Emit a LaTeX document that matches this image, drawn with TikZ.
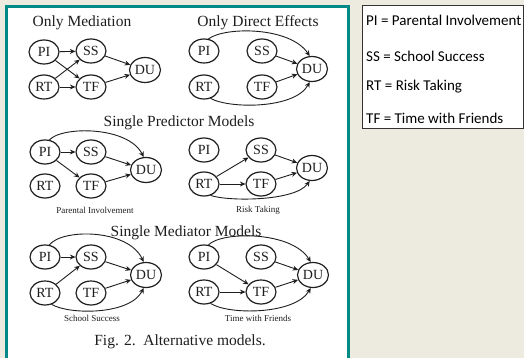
\documentclass[tikz,border=0pt]{standalone}
\usepackage{fontspec}
\setmainfont{Liberation Serif}
\newfontfamily\legfont{Carlito}
\usetikzlibrary{shapes.geometric,arrows.meta}
\definecolor{bg}{RGB}{237,234,224}
\definecolor{teal}{RGB}{0,138,134}
\definecolor{ink}{RGB}{30,30,30}
\tikzset{
  v/.style={ellipse, draw=ink, line width=1.2pt, minimum width=30pt, minimum height=24pt, inner sep=0pt, text=ink, font=\fontsize{14}{14}\selectfont},
  du/.style={v, minimum width=31pt, minimum height=25pt},
  ar/.style={draw=ink, line width=0.9pt, -{Stealth[length=5.5pt,width=5pt]}},
  ttl/.style={text=ink, font=\fontsize{15.5}{16}\selectfont, inner sep=0pt},
  smallcap/.style={text=ink, font=\fontsize{9}{9}\selectfont, inner sep=0pt},
  leg/.style={anchor=west, inner sep=0pt, text=black, font=\legfont\fontsize{15}{15}\selectfont}
}
\begin{document}
\begin{tikzpicture}[x=1pt,y=-1pt]
\useasboundingbox (0,0) rectangle (524,358);
\fill[bg] (0,0) rectangle (524,358);
\filldraw[fill=white, draw=teal, line width=3pt] (6.5,6.5) rectangle (348,360);
% legend
\filldraw[fill=white, draw=black!80, line width=0.8pt] (362,5) rectangle (523,128);
\node[leg] (l1) at (366,20) {PI = Parental Involvement};
\node[leg] (l2) at (366,56) {SS = School Success};
\node[leg] (l3) at (366,87) {RT = Risk Taking};
\node[leg] (l4) at (366,118) {TF = Time with Friends};
% titles
\node[ttl] (t1) at (82,23) {Only Mediation};
\node[ttl] (t2) at (258,23) {Only Direct Effects};
\node[ttl] (t3) at (179,123) {Single Predictor Models};
\node[ttl] (t4) at (186,233) {Single Mediator Models};
\node[ttl] (fig) at (180,342) {Fig. 2.\ \ Alternative models.};
% diagram 1
\begin{scope}[name prefix=a-]
\node[v] (PI) at (44,52) {PI};
\node[v] (SS) at (91,51) {SS};
\node[v] (RT) at (44,87) {RT};
\node[v] (TF) at (91,87) {TF};
\node[du] (DU) at (145,70) {DU};
\draw[ar] (PI) -- (SS);
\draw[ar] (PI) -- (TF);
\draw[ar] (RT) -- (SS);
\draw[ar] (RT) -- (TF);
\draw[ar] (SS) -- (DU);
\draw[ar] (TF) -- (DU);
\end{scope}
% diagram 2
\begin{scope}[name prefix=b-]
\node[v] (PI) at (204,51) {PI};
\node[v] (SS) at (262,51) {SS};
\node[v] (RT) at (204,87) {RT};
\node[v] (TF) at (262,87) {TF};
\node[du] (DU) at (312,69) {DU};
\draw[ar] (SS) -- (DU);
\draw[ar] (TF) -- (DU);
\draw[ar] (PI.70) .. controls (225,26.5) and (290,26.5) .. (DU.100);
\draw[ar] (RT.-60) .. controls (230,109) and (295,109) .. (DU.-100);
\end{scope}
% diagram 3
\begin{scope}[name prefix=c-]
\node[v] (PI) at (45,152) {PI};
\node[v] (SS) at (91,152) {SS};
\node[v] (RT) at (45,186) {RT};
\node[v] (TF) at (91,186) {TF};
\node[du] (DU) at (146,170) {DU};
\draw[ar] (PI) -- (SS);
\draw[ar] (PI) -- (TF);
\draw[ar] (SS) -- (DU);
\draw[ar] (TF) -- (DU);
\draw[ar] (PI.70) .. controls (62,126) and (128,126) .. (DU.100);
\node[smallcap] (c3) at (95,210) {Parental Involvement};
\end{scope}
% diagram 4
\begin{scope}[name prefix=d-]
\node[v] (PI) at (204,150) {PI};
\node[v] (SS) at (261,150) {SS};
\node[v] (RT) at (204,184) {RT};
\node[v] (TF) at (261,184) {TF};
\node[du] (DU) at (312,168) {DU};
\draw[ar] (RT) -- (SS);
\draw[ar] (RT) -- (TF);
\draw[ar] (SS) -- (DU);
\draw[ar] (TF) -- (DU);
\draw[ar] (RT.-60) .. controls (228,201.5) and (295,201.5) .. (DU.-100);
\node[smallcap] (c4) at (258,210) {Risk Taking};
\end{scope}
% diagram 5
\begin{scope}[name prefix=e-]
\node[v] (PI) at (45,257) {PI};
\node[v] (SS) at (91,257) {SS};
\node[v] (RT) at (45,293) {RT};
\node[v] (TF) at (91,293) {TF};
\node[du] (DU) at (146,275) {DU};
\draw[ar] (PI) -- (SS);
\draw[ar] (RT) -- (SS);
\draw[ar] (SS) -- (DU);
\draw[ar] (TF) -- (DU);
\draw[ar] (PI.70) .. controls (62,228.5) and (128,228.5) .. (DU.100);
\draw[ar] (RT.-60) .. controls (70,315) and (130,315) .. (DU.-100);
\node[smallcap] (c5) at (92,318) {School Success};
\end{scope}
% diagram 6
\begin{scope}[name prefix=f-]
\node[v] (PI) at (204,257) {PI};
\node[v] (SS) at (261,257) {SS};
\node[v] (RT) at (204,292) {RT};
\node[v] (TF) at (261,292) {TF};
\node[du] (DU) at (313,275) {DU};
\draw[ar] (PI) -- (TF);
\draw[ar] (RT) -- (TF);
\draw[ar] (SS) -- (DU);
\draw[ar] (TF) -- (DU);
\draw[ar] (PI.70) .. controls (222,231) and (292,231) .. (DU.100);
\draw[ar] (RT.-60) .. controls (228,315) and (295,315) .. (DU.-100);
\node[smallcap] (c6) at (258,318) {Time with Friends};
\end{scope}
\end{tikzpicture}
\end{document}
